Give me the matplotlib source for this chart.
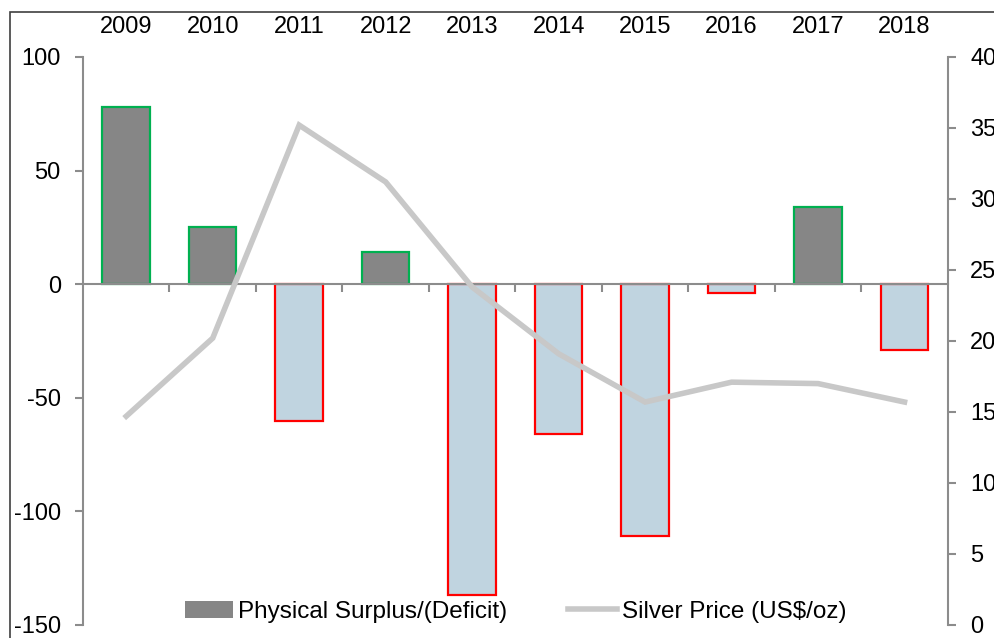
import matplotlib.pyplot as plt
from matplotlib.patches import Rectangle, Patch
from matplotlib.lines import Line2D

plt.rcParams['font.family'] = ['Liberation Sans', 'DejaVu Sans']
plt.rcParams['axes.unicode_minus'] = False

years = ['2009', '2010', '2011', '2012', '2013', '2014', '2015', '2016', '2017', '2018']
surplus = [78, 25, -60, 14, -137, -66, -111, -4, 34, -29]
silver_price = [14.7, 20.2, 35.2, 31.2, 23.8, 19.1, 15.7, 17.1, 17.0, 15.7]

axis_grey = '#8c8c8c'

fig = plt.figure(figsize=(9.94, 6.38), dpi=100)
ax = fig.add_axes([0.0835, 0.0204, 0.870, 0.8903])
ax2 = ax.twinx()

x = list(range(len(years)))
fills = ['#868686' if v >= 0 else '#c0d4e0' for v in surplus]
edges = ['#00b050' if v >= 0 else '#ff0000' for v in surplus]
ax.bar(x, surplus, width=0.55, color=fills, edgecolor=edges, linewidth=1.6, zorder=2)

ax2.plot(x, silver_price, color='#c8c8c8', linewidth=4, solid_joinstyle='miter', zorder=3)

ax.set_xlim(-0.5, 9.5)
ax.set_ylim(-150, 100)
ax.set_yticks([-150, -100, -50, 0, 50, 100])
ax2.set_ylim(0, 40)
ax2.set_yticks(range(0, 41, 5))

# x axis: labels on top, boundary ticks on the zero line
ax.spines['top'].set_visible(False)
ax.spines['bottom'].set_position(('data', 0))
ax.spines['bottom'].set_color(axis_grey)
ax.spines['bottom'].set_linewidth(1.5)
ax.set_xticks(x)
ax.set_xticklabels(years)
ax.set_xticks([i + 0.5 for i in range(9)], minor=True)
ax.tick_params(axis='x', which='major', length=0, labeltop=True, labelbottom=False, pad=14, labelsize=17)
ax.tick_params(axis='x', which='minor', bottom=True, top=False, length=6, width=1.5, color=axis_grey)

ax.spines['left'].set_color(axis_grey)
ax.spines['left'].set_linewidth(1.5)
ax.spines['right'].set_visible(False)
ax.tick_params(axis='y', length=6, width=1.5, color=axis_grey, labelsize=17, pad=10)

for side in ['top', 'bottom', 'left']:
    ax2.spines[side].set_visible(False)
ax2.spines['right'].set_color(axis_grey)
ax2.spines['right'].set_linewidth(1.5)
ax2.tick_params(axis='y', length=6, width=1.5, color=axis_grey, labelsize=17, pad=10)

handles = [Patch(facecolor='#868686', edgecolor='none'),
           Line2D([0], [0], color='#c8c8c8', linewidth=4)]
ax2.legend(handles, ['Physical Surplus/(Deficit)', 'Silver Price (US$/oz)'],
           loc='lower center', bbox_to_anchor=(0.5, -0.035), ncol=2, frameon=False,
           fontsize=17.5, handlelength=2.0, handletextpad=0.2, columnspacing=2.5)

fig.patches.append(Rectangle((0.010, -0.1), 1.1, 1.081, transform=fig.transFigure,
                             fill=False, edgecolor='#404040', linewidth=1.2))

fig.savefig('out.png', dpi=100)
